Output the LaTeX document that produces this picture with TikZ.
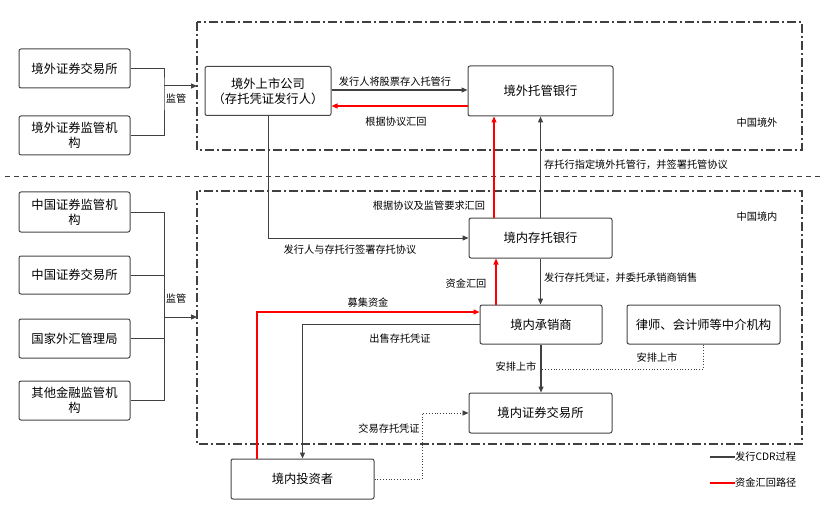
\documentclass[tikz,border=0pt]{standalone}
\usepackage{fontspec}
\setmainfont{Noto Sans CJK SC}
\usetikzlibrary{arrows.meta,calc}
\definecolor{ln}{RGB}{64,64,64}
\definecolor{bx}{RGB}{70,70,70}
\begin{document}
\begin{tikzpicture}[x=1pt,y=-1pt,
  box/.style={draw=bx,line width=1pt,rounded corners=2pt,fill=white,align=center,font=\fontsize{12.3}{15}\selectfont,inner sep=1pt},
  lbl/.style={font=\fontsize{10.2}{12}\selectfont,inner sep=0pt},
  arr/.style={-{Triangle[length=6pt,width=5pt]}},
  conn/.style={draw=ln,line width=1pt},
  redc/.style={draw=red,line width=1.1pt},
  dots/.style={draw=ln,line width=0.8pt,dotted},
  region/.style={draw=ln,line width=1.5pt,dash pattern=on 9pt off 3pt on 2pt off 3pt}]
\useasboundingbox (0,0) rectangle (824,513);
% regions
\draw[region] (197,22) rectangle (802,150);
\draw[region] (197,191) rectangle (802,444);
\draw[ln,line width=0.8pt,dash pattern=on 5pt off 4pt] (5,176) -- (822,176);
\node[lbl] (lout) at (757,123) {中国境外};
\node[lbl] (lin) at (757,217) {中国境内};
% left boxes
\node[box,minimum width=111pt,minimum height=39pt] (lex1) at (74.5,68.5) {境外证券交易所};
\node[box,minimum width=111pt,minimum height=39pt] (lex2) at (74.5,135.5) {境外证券监管机\\构};
\node[box,minimum width=111pt,minimum height=40pt] (cs1) at (74.5,212) {中国证券监管机\\构};
\node[box,minimum width=111pt,minimum height=38pt] (cs2) at (74.5,275) {中国证券交易所};
\node[box,minimum width=111pt,minimum height=39pt] (cs3) at (74.5,338.5) {国家外汇管理局};
\node[box,minimum width=111pt,minimum height=39pt] (cs4) at (74.5,400.5) {其他金融监管机\\构};
% main boxes
\node[box,minimum width=126pt,minimum height=49pt] (issuer) at (268,91) {境外上市公司\\（存托凭证发行人）};
\node[box,minimum width=145pt,minimum height=50pt] (cust) at (540.5,91) {境外托管银行};
\node[box,minimum width=143pt,minimum height=40pt] (depo) at (540.5,238) {境内存托银行};
\node[box,minimum width=122pt,minimum height=39pt] (under) at (541,324.5) {境内承销商};
\node[box,minimum width=153pt,minimum height=39pt] (inter) at (703.5,324.5) {律师、会计师等中介机构};
\node[box,minimum width=143pt,minimum height=40pt] (exch) at (540.5,413) {境内证券交易所};
\node[box,minimum width=143pt,minimum height=40pt] (inv) at (302.5,479) {境内投资者};
% supervision upper
\coordinate (j1) at (164,86);
\coordinate (t1) at (197,86);
\draw[conn] (lex1.east) -| (j1) |- (lex2.east);
\draw[conn,arr] (j1) -- (t1);
\node[lbl] (sv1) at (176,99) {监管};
% supervision lower
\coordinate (j2a) at (164,212);
\coordinate (j2b) at (164,400.5);
\coordinate (j2) at (164,317);
\coordinate (t2) at (197,317);
\draw[conn] (cs1.east) -- (j2a) -- (j2b) -- (cs4.east);
\draw[conn] (cs2.east) -- (cs2.east -| j2);
\draw[conn] (cs3.east) -- (cs3.east -| j2);
\draw[conn,arr] (j2) -- (t2);
\node[lbl] (sv2) at (176,299) {监管};
% issuer <-> custodian
\draw[conn,line width=1.3pt,arr] ([yshift=1pt]issuer.east) -- ([yshift=1pt]cust.west);
\node[lbl] (l1) at (395,82) {发行人将股票存入托管行};
\draw[redc,arr] ([yshift=-15pt]cust.west) -- ([yshift=-15pt]issuer.east);
\node[lbl] (l2) at (396,122) {根据协议汇回};
% issuer -> depository
\draw[conn,arr] (issuer.south) |- (depo.west);
\node[lbl] (l3) at (350,250) {发行人与存托行签署存托协议};
% depository -> custodian
\draw[conn,line width=1.3pt,arr] (depo.north) -- (cust.south);
\node[lbl,anchor=west] (l4) at (544,165) {存托行指定境外托管行，并签署托管协议};
\draw[redc,arr] ([xshift=-46.5pt]depo.north) -- ([xshift=-46.5pt]cust.south);
\node[lbl] (l5) at (429,206) {根据协议及监管要求汇回};
% depository -> underwriter
\draw[conn,line width=1.3pt,arr] (depo.south) -- (depo.south |- under.north);
\node[lbl,anchor=west] (l6) at (544,278) {发行存托凭证，并委托承销商销售};
\draw[redc,arr] ([xshift=-45pt]under.north) -- ([xshift=-45pt]under.north |- depo.south);
\node[lbl] (l7) at (466,284) {资金汇回};
% underwriter -> exchange
\draw[conn,line width=1.3pt,arr] (under.south) -- (under.south |- exch.north);
\node[lbl] (l8) at (516,367) {安排上市};
\coordinate (jn) at (541,369);
\draw[dots] (inter.south) |- (jn);
\node[lbl] (l9) at (657,358) {安排上市};
% investor
\draw[redc,arr] ([xshift=-45.5pt]inv.north) |- ([yshift=12.5pt]under.west);
\node[lbl] (l10) at (368,303) {募集资金};
\draw[conn,arr] (under.west) -| (inv.north);
\node[lbl] (l11) at (400,339) {出售存托凭证};
\coordinate (jx) at (422,413);
\draw[dots,arr] (inv.east) -| (jx) -- (exch.west);
\node[lbl] (l12) at (389,429) {交易存托凭证};
% legend
\coordinate (g1a) at (710,457); \coordinate (g1b) at (735,457);
\coordinate (g2a) at (710,483); \coordinate (g2b) at (735,483);
\draw[draw=ln,line width=1.2pt] (g1a) -- (g1b);
\draw[draw=red,line width=1.2pt] (g2a) -- (g2b);
\node[lbl,anchor=west] (lg1) at (g1b) {发行CDR过程};
\node[lbl,anchor=west] (lg2) at (g2b) {资金汇回路径};
\end{tikzpicture}
\end{document}
